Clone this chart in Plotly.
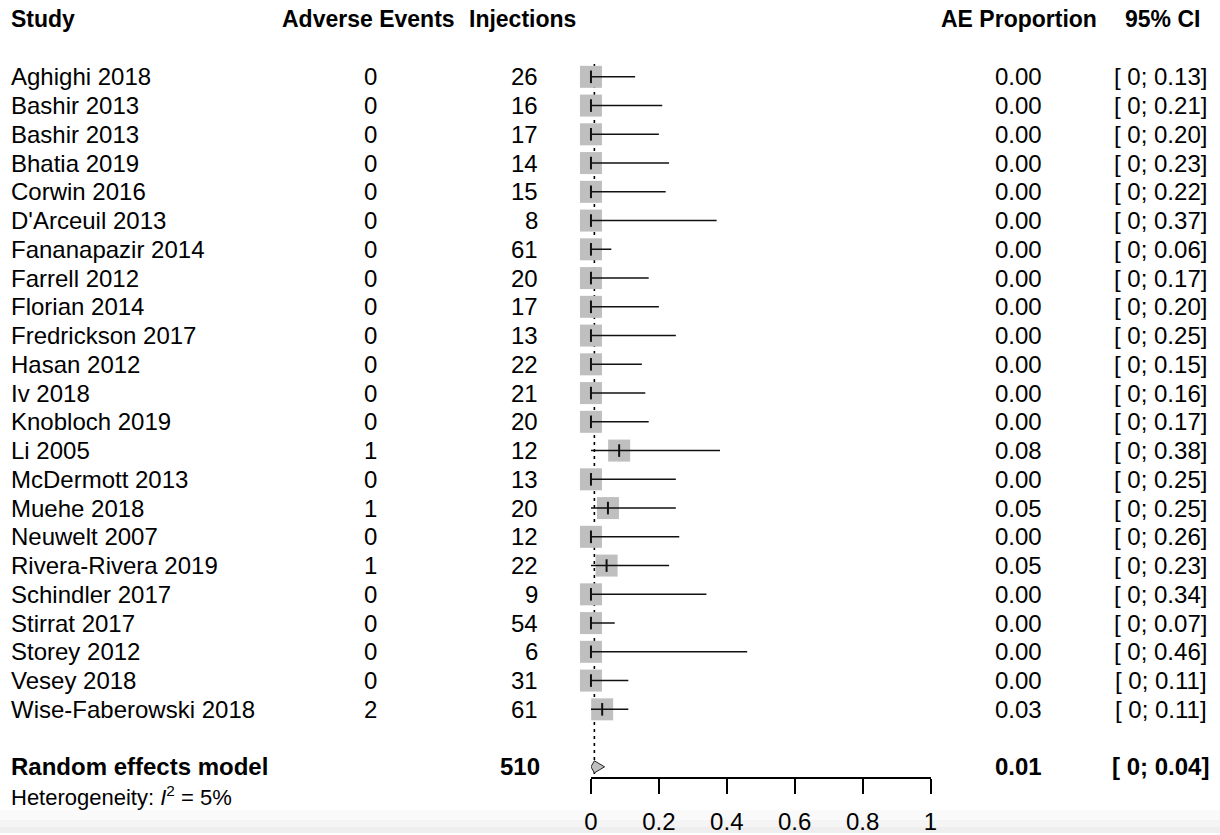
import plotly.graph_objects as go

studies = ["Aghighi 2018", "Bashir 2013", "Bashir 2013", "Bhatia 2019", "Corwin 2016",
           "D'Arceuil 2013", "Fananapazir 2014", "Farrell 2012", "Florian 2014",
           "Fredrickson 2017", "Hasan 2012", "Iv 2018", "Knobloch 2019", "Li 2005",
           "McDermott 2013", "Muehe 2018", "Neuwelt 2007", "Rivera-Rivera 2019",
           "Schindler 2017", "Stirrat 2017", "Storey 2012", "Vesey 2018",
           "Wise-Faberowski 2018"]
events = [0, 0, 0, 0, 0, 0, 0, 0, 0, 0, 0, 0, 0, 1, 0, 1, 0, 1, 0, 0, 0, 0, 2]
injections = [26, 16, 17, 14, 15, 8, 61, 20, 17, 13, 22, 21, 20, 12, 13, 20, 12, 22, 9, 54, 6, 31, 61]
proportion = [0.0, 0.0, 0.0, 0.0, 0.0, 0.0, 0.0, 0.0, 0.0, 0.0, 0.0, 0.0, 0.0, 0.083,
              0.0, 0.05, 0.0, 0.046, 0.0, 0.0, 0.0, 0.0, 0.033]
ci_lower = [0, 0, 0, 0, 0, 0, 0, 0, 0, 0, 0, 0, 0, 0, 0, 0, 0, 0, 0, 0, 0, 0, 0]
ci_upper = [0.13, 0.21, 0.20, 0.23, 0.22, 0.37, 0.06, 0.17, 0.20, 0.25, 0.15, 0.16,
            0.17, 0.38, 0.25, 0.25, 0.26, 0.23, 0.34, 0.07, 0.46, 0.11, 0.11]

re_label = "Random effects model"
re_total = 510
re_est = 0.01
re_lower = 0.0
re_upper = 0.04
heterogeneity = "Heterogeneity: <i>I</i><sup>2</sup> = 5%"

axis_ticks = [0, 0.2, 0.4, 0.6, 0.8, 1]
axis_ticktext = ["0", "0.2", "0.4", "0.6", "0.8", "1"]

headers = ["Study", "Adverse Events", "Injections", "AE Proportion", "95% CI"]

W, H = 1220, 835
FONT = "Liberation Sans, Arial, sans-serif"
FS = 24
HFS = 23
GREY = "#bfbfbf"

# the page renders the figure 8px in from each side; map target pixels onto it
PAD = 8
EFF_W = W - 2 * PAD


def px(x):
    return (x - PAD) / EFF_W


rows = list(range(len(studies)))
re_row = len(studies) + 1
het_row = re_row + 1
header_row = -2

fig = go.Figure()

# CI lines
xs, ys = [], []
for i, (lo, hi) in enumerate(zip(ci_lower, ci_upper)):
    xs += [lo, hi, None]
    ys += [i, i, None]

# dotted reference line at pooled estimate
fig.add_trace(go.Scatter(x=[re_est, re_est], y=[-0.45, re_row + 0.25], mode="lines",
                         line=dict(color="black", width=1.6, dash="3px,4px"),
                         hoverinfo="skip", showlegend=False, cliponaxis=False))

# squares
fig.add_trace(go.Scatter(x=proportion, y=rows, mode="markers",
                         marker=dict(symbol="square", size=22, color=GREY,
                                     line=dict(width=0)),
                         showlegend=False, hoverinfo="skip", cliponaxis=False))
fig.add_trace(go.Scatter(x=xs, y=ys, mode="lines",
                         line=dict(color="#111111", width=1.5),
                         showlegend=False, hoverinfo="skip", cliponaxis=False))
# estimate ticks
fig.add_trace(go.Scatter(x=proportion, y=rows, mode="markers",
                         marker=dict(symbol="line-ns", size=9,
                                     line=dict(width=2, color="#111111")),
                         showlegend=False, hoverinfo="skip", cliponaxis=False))

# diamond
dh = 0.21
fig.add_trace(go.Scatter(x=[re_lower, re_est, re_upper, re_est, re_lower],
                         y=[re_row, re_row - dh, re_row, re_row + dh, re_row],
                         mode="lines", fill="toself", fillcolor=GREY,
                         line=dict(color="#222222", width=1),
                         showlegend=False, hoverinfo="skip", cliponaxis=False))

ann = []


def add_text(text, xpx, row, anchor, bold=False, size=FS):
    t = f"<b>{text}</b>" if bold else text
    ann.append(dict(text=t, x=px(xpx), xref="paper", y=row, yref="y",
                    xanchor=anchor, yanchor="middle", showarrow=False,
                    font=dict(family=FONT, size=size, color="black")))


# headers
add_text(headers[0], 10, header_row, "left", True, HFS)
add_text(headers[1], 369, header_row, "center", True, HFS)
add_text(headers[2], 578, header_row, "right", True, HFS)
add_text(headers[3], 1098, header_row, "right", True, HFS)
add_text(headers[4], 1201, header_row, "right", True, HFS)

for i in rows:
    add_text(studies[i], 10, i, "left")
    add_text(str(events[i]), 371, i, "center")
    add_text(str(injections[i]), 540, i, "right")
    add_text(f"{proportion[i]:.2f}", 1043, i, "right")
    add_text(f"[ {ci_lower[i]:g}; {ci_upper[i]:.2f}]", 1208, i, "right")

add_text(re_label, 10, re_row, "left", True)
add_text(str(re_total), 542, re_row, "right", True)
add_text(f"{re_est:.2f}", 1043, re_row, "right", True)
add_text(f"[ {re_lower:g}; {re_upper:.2f}]", 1210, re_row, "right", True)
add_text(heterogeneity, 10, het_row, "left", False, 22)

# y mapping: row 0 at pixel 77, spacing 28.82 px, axis line at pixel 780
row_px0, row_step, axis_px = 77.0, 28.82, 780.0
y_bottom = (H - row_px0) / row_step
y_top = (0 - row_px0) / row_step

shapes = [
    dict(type="rect", xref="paper", yref="paper", x0=-0.02, x1=1.02,
         y0=(H - 822) / H, y1=(H - 812) / H, fillcolor="#fafafa", line=dict(width=0), layer="below"),
    dict(type="rect", xref="paper", yref="paper", x0=-0.02, x1=1.02,
         y0=(H - 829) / H, y1=(H - 822) / H, fillcolor="#f4f4f4", line=dict(width=0), layer="below"),
    dict(type="rect", xref="paper", yref="paper", x0=-0.02, x1=1.02,
         y0=0, y1=(H - 829) / H, fillcolor="#eeeeee", line=dict(width=0), layer="below"),
]

fig.update_layout(
    width=W, height=H,
    margin=dict(l=0, r=0, t=0, b=0),
    paper_bgcolor="white", plot_bgcolor="rgba(0,0,0,0)",
    showlegend=False,
    annotations=ann,
    shapes=shapes,
    xaxis=dict(domain=[px(591), px(930)], range=[0, 1], showgrid=False, zeroline=False,
               anchor="free", position=(H - axis_px) / H,
               showline=True, linecolor="black", linewidth=1.5,
               ticks="outside", ticklen=15, tickwidth=1.5, tickcolor="black",
               tickvals=axis_ticks, ticktext=axis_ticktext,
               tickfont=dict(family=FONT, size=FS, color="black"),
               ticklabelstandoff=7, fixedrange=True),
    yaxis=dict(domain=[0, 1], range=[y_bottom, y_top],
               visible=False, showgrid=False, zeroline=False, fixedrange=True),
)

fig.write_html("out.html", config={"displayModeBar": False})
